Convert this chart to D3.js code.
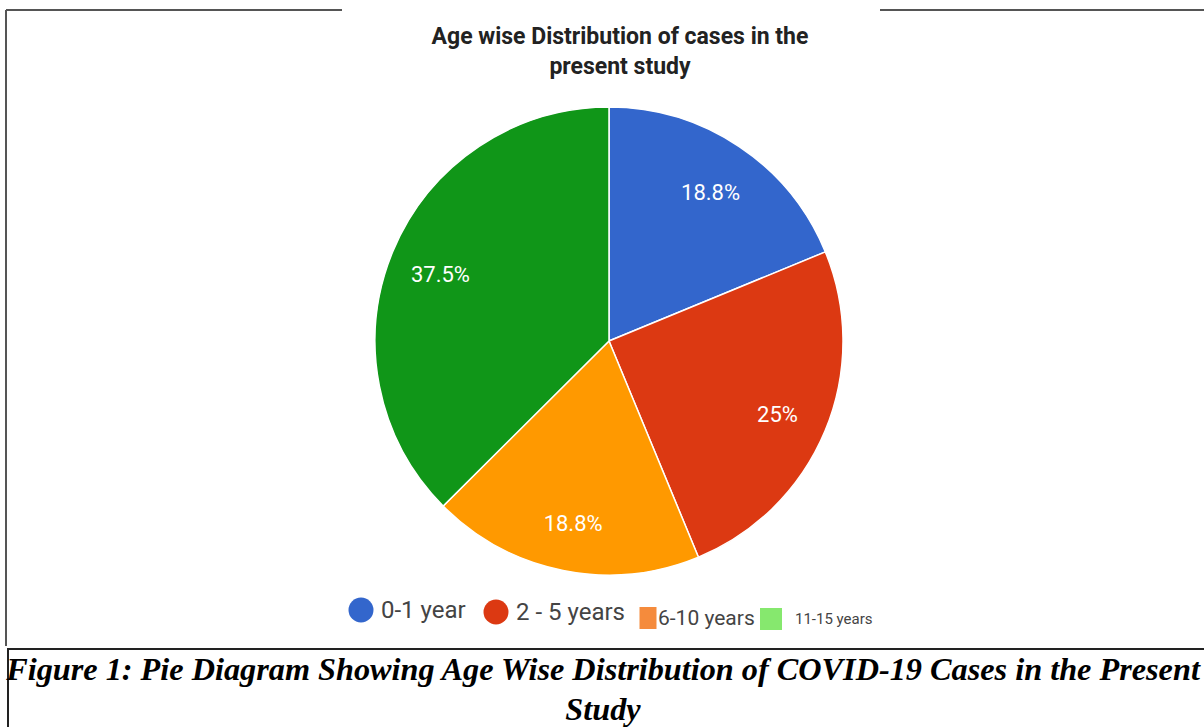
<!DOCTYPE html>
<html>
<head>
<meta charset="utf-8">
<script src="https://cdn.jsdelivr.net/npm/d3@7"></script>
<style>
  body { margin: 0; background: #fff; }
  svg { display: block; }
</style>
</head>
<body>
<script>
// data
var ageGroups = ["0-1 year", "2 - 5 years", "6-10 years", "11-15 years"];
var percents = [18.8, 25, 18.8, 37.5];
var sliceColors = ["#3366cc", "#dc3912", "#ff9900", "#109618"];
var legendColors = ["#3366cc", "#dc3912", "#f58b3c", "#86e86e"];
var titleLines = ["Age wise Distribution of cases in the", "present study"];
var captionLines = ["Figure 1: Pie Diagram Showing Age Wise Distribution of COVID-19 Cases in the Present", "Study"];

var W = 1204, H = 727;

var svg = d3.select("body").append("svg")
    .attr("width", W)
    .attr("height", H);

// page frame lines (from the document the figure sits in)
var frame = svg.append("g")
    .attr("stroke", "#555")
    .attr("stroke-width", 2)
    .attr("fill", "none");
frame.append("path").attr("d", "M6,10H342");
frame.append("path").attr("d", "M880,10H1204");
frame.append("path").attr("d", "M6,10V646");
frame.append("path").attr("d", "M7,649H1204").attr("stroke", "#222");
frame.append("path").attr("d", "M8,649V727").attr("stroke", "#222");

// chart title
svg.append("g").selectAll("text")
    .data(titleLines)
    .enter().append("text")
      .attr("x", 620)
      .attr("y", function(d, i) { return 44 + i * 30; })
      .attr("text-anchor", "middle")
      .style("font-family", "Roboto, sans-serif")
      .style("font-weight", "bold")
      .style("font-size", "23px")
      .style("fill", "#222")
      .text(function(d) { return d; });

// pie
var cx = 609, cy = 341, radius = 234;

var pie = d3.pie().sort(null).value(function(d) { return d; });
var arc = d3.arc().innerRadius(0).outerRadius(radius);
var labelArc = d3.arc().innerRadius(radius * 0.78).outerRadius(radius * 0.78);

var g = svg.append("g")
    .attr("transform", "translate(" + cx + "," + cy + ")");

var arcs = pie(percents);

g.selectAll(".slice")
    .data(arcs)
    .enter().append("path")
      .attr("class", "slice")
      .attr("d", arc)
      .style("fill", function(d, i) { return sliceColors[i]; })
      .style("stroke", "#fff")
      .style("stroke-width", 1.5);

g.selectAll(".pct")
    .data(arcs)
    .enter().append("text")
      .attr("class", "pct")
      .attr("transform", function(d) { return "translate(" + labelArc.centroid(d) + ")"; })
      .attr("dy", "0.5em")
      .attr("text-anchor", "middle")
      .style("font-family", "Roboto, sans-serif")
      .style("font-size", "22px")
      .style("fill", "#fff")
      .text(function(d) { return d3.format("~")(d.data) + "%"; });

// legend (mixed marker shapes and sizes as in the picture)
var legendItems = [
  {x: 361, y: 610, shape: "circle", size: 12.5, font: 24, tx: 381},
  {x: 496, y: 612, shape: "circle", size: 12.5, font: 24, tx: 516},
  {x: 648, y: 618, shape: "rect", size: 17, font: 21, tx: 658},
  {x: 771, y: 619, shape: "rect", size: 22, font: 15, tx: 795}
];
var legend = svg.append("g");
legendItems.forEach(function(it, i) {
  if (it.shape == "circle") {
    legend.append("circle")
        .attr("cx", it.x)
        .attr("cy", it.y)
        .attr("r", it.size)
        .style("fill", legendColors[i]);
  } else {
    legend.append("rect")
        .attr("x", it.x - it.size / 2)
        .attr("y", it.y - 11)
        .attr("width", it.size)
        .attr("height", 22)
        .style("fill", legendColors[i]);
  }
  legend.append("text")
      .attr("x", it.tx)
      .attr("y", it.y)
      .attr("dy", ".35em")
      .style("font-family", "Roboto, sans-serif")
      .style("font-size", it.font + "px")
      .style("fill", "#444")
      .text(ageGroups[i]);
});

// figure caption
var caption = svg.append("g").selectAll("text")
    .data(captionLines)
    .enter().append("text")
      .attr("x", 603)
      .attr("y", function(d, i) { return 680 + i * 40; })
      .attr("text-anchor", "middle")
      .style("font-family", "'Liberation Serif', 'Times New Roman', serif")
      .style("font-weight", "bold")
      .style("font-style", "italic")
      .style("font-size", "26px")
      .style("fill", "#000")
      .text(function(d) { return d; });

// fit the long caption line to the page width
var first = caption.filter(function(d, i) { return i == 0; });
var len = first.node().getComputedTextLength();
var fs = 26 * 1194 / len;
caption.style("font-size", fs + "px");
</script>
</body>
</html>
